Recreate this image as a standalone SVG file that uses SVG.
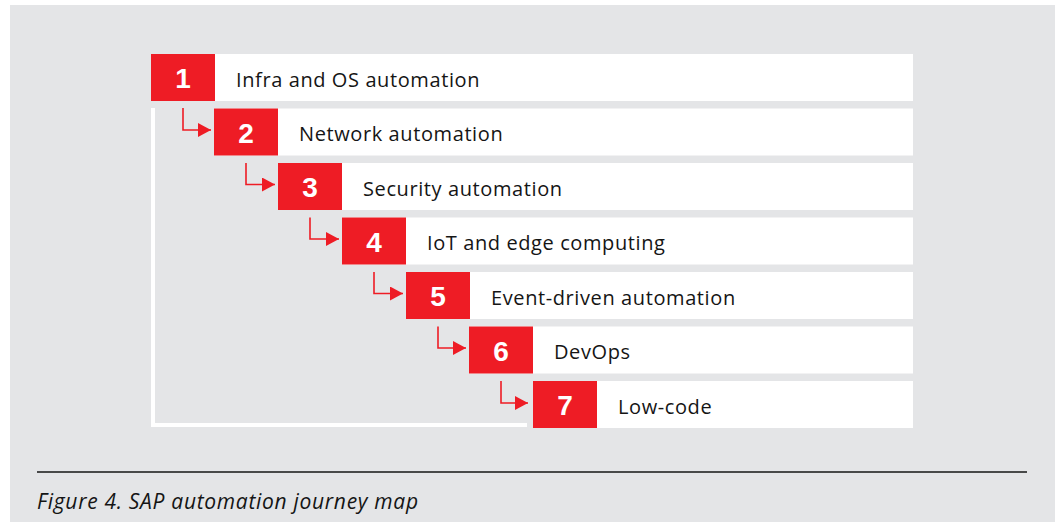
<svg xmlns="http://www.w3.org/2000/svg" width="1063" height="522" viewBox="0 0 1063 522">
<style>
.bg{fill:#e4e5e7}
.card{fill:#ffffff}
.num{fill:#ee1c25}
.numt{font-family:"Liberation Sans",Arial,sans-serif;font-weight:bold;font-size:28px;fill:#ffffff;text-anchor:middle}
.lbl{font-family:"Open Sans","Liberation Sans",sans-serif;font-size:20px;letter-spacing:0.6px;fill:#151515}
.conn{fill:none;stroke:#ee1c25;stroke-width:1.6}
.cap{font-family:"Open Sans","Liberation Sans",sans-serif;font-style:italic;font-size:21px;letter-spacing:0.7px;fill:#151515}
</style>
<defs>
<marker id="ah" markerUnits="userSpaceOnUse" markerWidth="14" markerHeight="14" refX="13" refY="7" orient="auto">
<path d="M0,0 L13,7 L0,14 z" fill="#ee1c25"/>
</marker>
</defs>
<rect x="10" y="5" width="1045" height="517" class="bg"/>
<path d="M153,108 V425 H527" fill="none" stroke="#ffffff" stroke-width="4"/>
<g id="n1"><rect class="card" x="151" y="54" width="762" height="47"/><rect class="num" x="151" y="54" width="64" height="47"/><text class="numt" x="183" y="88">1</text><text class="lbl" x="236" y="86.5">Infra and OS automation</text></g>
<g id="n2"><rect class="card" x="214" y="108.5" width="699" height="47"/><rect class="num" x="214" y="108.5" width="64" height="47"/><text class="numt" x="246" y="142.5">2</text><text class="lbl" x="299" y="141">Network automation</text></g>
<g id="n3"><rect class="card" x="278" y="163" width="635" height="47"/><rect class="num" x="278" y="163" width="64" height="47"/><text class="numt" x="310" y="197">3</text><text class="lbl" x="363" y="195.5">Security automation</text></g>
<g id="n4"><rect class="card" x="342" y="217.5" width="571" height="47"/><rect class="num" x="342" y="217.5" width="64" height="47"/><text class="numt" x="374" y="251.5">4</text><text class="lbl" x="427" y="250">IoT and edge computing</text></g>
<g id="n5"><rect class="card" x="406" y="272" width="507" height="47"/><rect class="num" x="406" y="272" width="64" height="47"/><text class="numt" x="438" y="306">5</text><text class="lbl" x="491" y="304.5">Event-driven automation</text></g>
<g id="n6"><rect class="card" x="469" y="326.5" width="444" height="47"/><rect class="num" x="469" y="326.5" width="64" height="47"/><text class="numt" x="501" y="360.5">6</text><text class="lbl" x="554" y="359">DevOps</text></g>
<g id="n7"><rect class="card" x="533" y="381" width="380" height="47"/><rect class="num" x="533" y="381" width="64" height="47"/><text class="numt" x="565" y="415">7</text><text class="lbl" x="618" y="413.5">Low-code</text></g>
<g id="connectors">
<path class="conn" marker-end="url(#ah)" d="M183,108 V130 H211"/>
<path class="conn" marker-end="url(#ah)" d="M246,163 V184.5 H275"/>
<path class="conn" marker-end="url(#ah)" d="M310,217.5 V239 H339"/>
<path class="conn" marker-end="url(#ah)" d="M374,272 V293.5 H403"/>
<path class="conn" marker-end="url(#ah)" d="M438,326.5 V348 H466"/>
<path class="conn" marker-end="url(#ah)" d="M501,381 V403 H528"/>
</g>
<line x1="37" y1="472" x2="1027" y2="472" stroke="#151515" stroke-width="1.5"/>
<text class="cap" x="37" y="508.5">Figure 4. SAP automation journey map</text>
</svg>
